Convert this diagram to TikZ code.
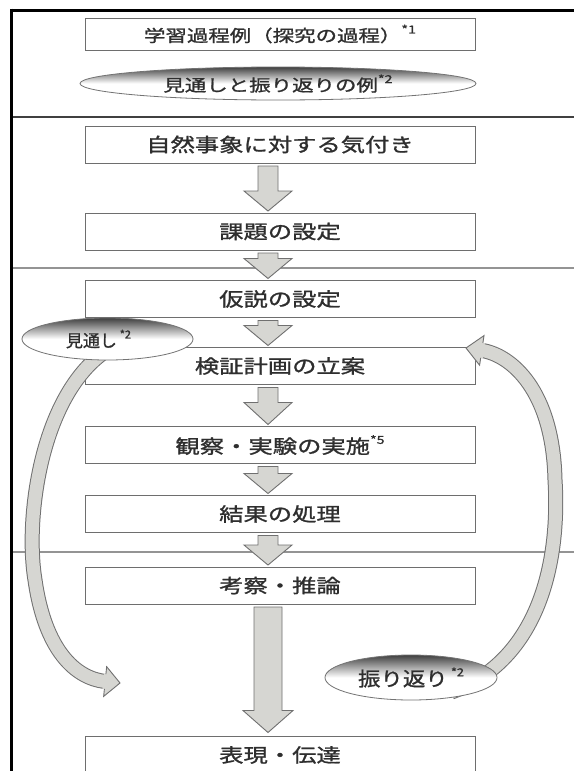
\documentclass[tikz,border=0pt]{standalone}
\usepackage{fontspec}
\usetikzlibrary{calc,shapes.geometric}
\newfontfamily\jpbox[FakeStretch=1.28,FakeBold=1.2]{Noto Sans CJK JP}
\newfontfamily\jptop[FakeStretch=1.3,FakeBold=1.2]{Noto Sans CJK JP}
\newfontfamily\jpmi[FakeStretch=1.0,FakeBold=1.2]{Noto Sans CJK JP}
\newfontfamily\jpfu[FakeStretch=1.15,FakeBold=1.2]{Noto Sans CJK JP}
\definecolor{txt}{HTML}{2E2E2E}
\definecolor{edge}{HTML}{6E6E6E}
\definecolor{afill}{HTML}{D6D6D2}
\definecolor{aedge}{HTML}{707070}
\pgfdeclarelayer{front}
\pgfsetlayers{main,front}
\newcommand\supmark[1]{\raisebox{0.5em}{\fontsize{11pt}{11pt}\selectfont #1}}
\tikzset{
  stepbox/.style={draw=edge, line width=1pt, fill=white, minimum width=390pt,
    minimum height=37pt, inner sep=0pt, outer sep=0pt, text=txt,
    font={\jpbox\fontsize{19pt}{19pt}\selectfont}},
  oval/.style={ellipse, draw=black!55, line width=0.8pt, inner sep=0pt, outer sep=0pt,
    top color=black!75, bottom color=white, middle color=white, text=txt},
  blockarrow/.style={fill=afill, draw=aedge, line width=0.9pt, line join=miter},
  bandout/.style={draw=aedge, line width=15pt},
  bandin/.style={draw=afill, line width=13pt},
  headfill/.style={fill=afill},
  headline/.style={draw=aedge, line width=0.9pt, line join=miter},
}
\begin{document}
\begin{tikzpicture}[x=1pt, y=-1pt]
\clip (0,0) rectangle (574,771);
\fill[white] (0,0) rectangle (574,771);
% frame lines
\draw[line width=3pt] (10,10.3) -- (574,10.3);
\draw[line width=3.2pt] (11.6,8.7) -- (11.6,771);
\draw[line width=1.8pt, black!75] (13,117) -- (574,117);
\draw[line width=1.1pt, black!42] (13,268) -- (574,268);
\draw[line width=1.1pt, black!42] (13,552) -- (574,552);

% top legend
\node[stepbox, minimum height=32pt, font={\jptop\fontsize{16.5pt}{16.5pt}\selectfont}] (b0) at (280,34) {学習過程例（探究の過程）\supmark{*1}};
\node[oval, minimum width=396pt, minimum height=33pt, font={\jptop\fontsize{16.5pt}{16.5pt}\selectfont}] (e0) at (278,83.5) {見通しと振り返りの例\supmark{*2}};

% process boxes
\node[stepbox] (n1) at (280,144.5) {自然事象に対する気付き};
\node[stepbox] (n2) at (280,231.5) {課題の設定};
\node[stepbox] (n3) at (280,299) {仮説の設定};
\node[stepbox] (n4) at (280,366) {検証計画の立案};
\node[stepbox] (n5) at (280,445) {観察・実験の実施\supmark{*5}};
\node[stepbox] (n6) at (280,514) {結果の処理};
\node[stepbox] (n7) at (280,585.5) {考察・推論};
\node[stepbox] (n8) at (280,755) {表現・伝達};

% block arrows between boxes (#1 from, #2 to, #3 head depth, #4 shaft half width)
\newcommand\blockdown[4]{%
  \path[blockarrow] let \p1=(#1.south), \p2=(#2.north) in
    (268pt-#4pt,\y1-3pt) -- (268pt+#4pt,\y1-3pt) -- (268pt+#4pt,\y2+2pt+#3pt)
    -- (292pt,\y2+2pt+#3pt) -- (268pt,\y2+2pt) -- (244pt,\y2+2pt+#3pt)
    -- (268pt-#4pt,\y2+2pt+#3pt) -- cycle;}
\blockdown{n1}{n2}{20}{10}
\blockdown{n2}{n3}{20}{10}
\blockdown{n3}{n4}{20}{10}
\blockdown{n4}{n5}{22}{10}
\blockdown{n5}{n6}{20}{10}
\blockdown{n6}{n7}{20}{10}
\path[blockarrow] let \p1=(n7.south), \p2=(n8.north) in
    (254pt,\y1-3pt) -- (282pt,\y1-3pt) -- (282pt,\y2+26pt)
    -- (293pt,\y2+26pt) -- (268pt,\y2+4pt) -- (243pt,\y2+26pt)
    -- (254pt,\y2+26pt) -- cycle;

% labels of the loop (front layer)
\begin{pgfonlayer}{front}
\node[oval, minimum width=171pt, minimum height=42pt, font={\jpmi\fontsize{17pt}{17pt}\selectfont}] (e1) at (107.5,339) {見通し\,\supmark{*2}\hspace*{18pt}};
\node[oval, minimum width=172pt, minimum height=45pt, font={\jpfu\fontsize{19.5pt}{19.5pt}\selectfont}] (e2) at (411,677.5) {振り返り\,\supmark{*2}};
\end{pgfonlayer}

% left curved arrow (見通し)
\coordinate (lstart) at ($(e1.center)!0.7!(e1.250)$);
\coordinate (lB) at (105.15,681.5);
\coordinate (ltip) at (120,683);
\draw[bandout] (lstart) .. controls (40,400) and (25,520) .. (35,580)
   .. controls (45,650) and (75,678) .. (lB);
\draw[bandin] (lstart) .. controls (40,400) and (25,520) .. (35,580)
   .. controls (45,650) and (75,678) .. (lB);
\fill[headfill] (103.9,673.9) -- (105.9,674.1) -- (106.65,666.65) -- (ltip)
   -- (103.65,696.4) -- (104.4,688.9) -- (102.4,688.7) -- cycle;
\draw[headline] (105.9,674.1) -- (106.65,666.65) -- (ltip) -- (103.65,696.4) -- (104.4,688.9);

% right curved arrow (振り返り)
\coordinate (rstart) at ($(e2.center)!0.8!(e2.340)$);
\coordinate (rB) at (481.8,350.4);
\coordinate (rtip) at (466,348);
\draw[bandout] (rstart) .. controls (540,660) and (560,560) .. (555,480)
   .. controls (553,390) and (511,355) .. (rB);
\draw[bandin] (rstart) .. controls (540,660) and (560,560) .. (555,480)
   .. controls (553,390) and (511,355) .. (rB);
\fill[headfill] (484.9,343.3) -- (482.9,343) -- (484,335.6) -- (rtip)
   -- (479.6,365.2) -- (480.7,357.8) -- (482.7,358.1) -- cycle;
\draw[headline] (482.9,343) -- (484,335.6) -- (rtip) -- (479.6,365.2) -- (480.7,357.8);
\end{tikzpicture}
\end{document}
